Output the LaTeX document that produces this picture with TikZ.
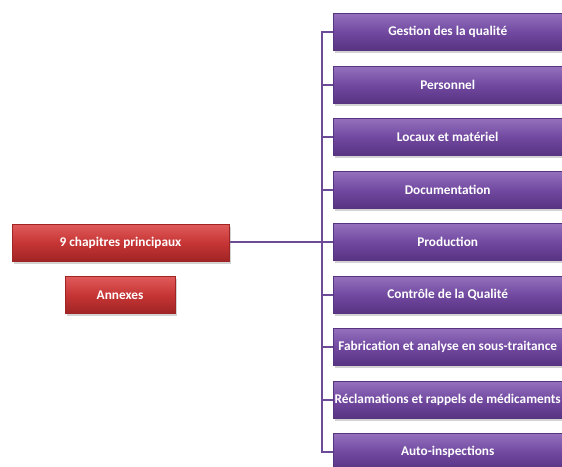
\documentclass[tikz,border=0pt]{standalone}
\usepackage{fontspec}
\setmainfont{Carlito}
\usetikzlibrary{shadows}
\definecolor{purpT}{HTML}{9470BC}
\definecolor{purpM}{HTML}{7149A0}
\definecolor{purpB}{HTML}{573382}
\definecolor{redT}{HTML}{E05A5A}
\definecolor{redM}{HTML}{C63535}
\definecolor{redB}{HTML}{A02424}
\definecolor{linkc}{HTML}{6B4A98}
\tikzset{
  pbox/.style={draw=purpB, line width=0.4pt, minimum width=229pt, minimum height=37pt, inner sep=0pt,
    top color=purpT, bottom color=purpB, middle color=purpM, text=white, font=\bfseries\fontsize{13.3}{14}\selectfont,
    drop shadow={shadow xshift=1.5pt, shadow yshift=-2pt, opacity=0.35}},
  rbox/.style={draw=redB, line width=0.4pt, minimum height=37pt, inner sep=0pt,
    top color=redT, bottom color=redB, middle color=redM, text=white, font=\bfseries\fontsize{13.3}{14}\selectfont,
    drop shadow={shadow xshift=1.5pt, shadow yshift=-2pt, opacity=0.35}},
  link/.style={draw=linkc, line width=2.6pt}
}
\begin{document}
\begin{tikzpicture}[x=1pt,y=-1pt]
\useasboundingbox (0,0) rectangle (562,466);
\begin{scope}
\clip (0,0) rectangle (562,466);
\coordinate (bus) at (322,242);
\foreach \i/\t [count=\n] in {
  32/Gestion des la qualité,
  85/Personnel,
  137/Locaux et matériel,
  190/Documentation,
  242/Production,
  295/Contrôle de la Qualité,
  347/Fabrication et analyse en sous-traitance,
  400/Réclamations et rappels de médicaments,
  452/Auto-inspections}{
  \draw[link] (333,\i) -- ++(-11,0);
  \node[pbox, anchor=west] (p\n) at (333,\i) {\t};
}
\coordinate (top) at (322,32);
\coordinate (bot) at (322,452);
\draw[link, line cap=rect] (top) -- (bot);
\draw[link] (228,242) -- (bus);
\node[rbox, minimum width=217pt] (main) at (120.5,243) {9 chapitres principaux};
\node[rbox, minimum width=110pt] (ann) at (120,295) {Annexes};
\end{scope}
\end{tikzpicture}
\end{document}
